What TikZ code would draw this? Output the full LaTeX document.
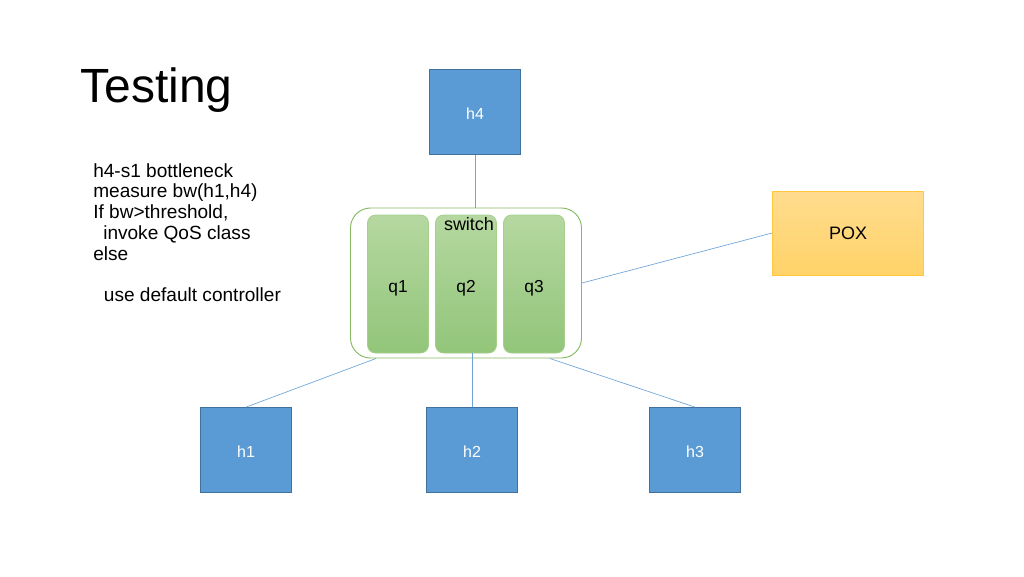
\documentclass[tikz,border=0pt]{standalone}
\usepackage{fontspec}
\setmainfont{Liberation Sans}
\usetikzlibrary{positioning}
\definecolor{hostfill}{HTML}{5B9BD5}
\definecolor{hostline}{HTML}{41719C}
\definecolor{qtop}{HTML}{B5D8A0}
\definecolor{qbot}{HTML}{92C57A}
\definecolor{qline}{HTML}{A6CF8C}
\definecolor{swline}{HTML}{86BA62}
\definecolor{poxtop}{HTML}{FFDC8E}
\definecolor{poxbot}{HTML}{FFD369}
\definecolor{poxline}{HTML}{FFC83D}
\definecolor{linkcol}{HTML}{6FA5D8}
\tikzset{
   host/.style={draw=hostline, line width=0.6pt, fill=hostfill, text=white,
      minimum width=68.25pt, minimum height=63.75pt, text height=11.8pt, text depth=0pt,
      font=\fontsize{12}{14}\selectfont},
   queue/.style={draw=qline, line width=0.6pt, top color=qtop, bottom color=qbot,
      rounded corners=6pt, minimum width=45.75pt, minimum height=103.5pt,
      text height=15.5pt, text depth=2.7pt, font=\fontsize{13}{15}\selectfont},
   link/.style={draw=linkcol, line width=0.5pt}
}

\begin{document}
\begin{tikzpicture}[x=0.75pt,y=-0.75pt]
   \useasboundingbox[fill=white] (0,0) rectangle (1024,576);
   %\draw[step=50,gray!30,very thin] (0,0) grid (1024,576);
   \node[anchor=base west, inner sep=0, font=\fontsize{36}{40}\selectfont] (title) at (80,102) {Testing};
   \node[anchor=north west, inner sep=0, align=left, font=\fontsize{14.3}{15.6}\selectfont] (notes) at (93,163)
      {h4-s1 bottleneck\\ measure bw(h1,h4)\\ If bw>threshold,\\ \hspace*{7.5pt}invoke QoS class\\ else\\[15.6pt]
       \hspace*{8pt}use default controller};

   % switch with its three queues
   \node[draw=swline, line width=0.7pt, fill=white, rounded corners=15pt,
      minimum width=173.25pt, minimum height=112.5pt] (sw) at (466,283) {};
   \node[queue] (q1) at (398,284) {q1};
   \node[queue] (q2) at (466,284) {q2};
   \node[queue] (q3) at (534,284) {q3};
   \node[font=\fontsize{13.5}{15}\selectfont, inner sep=0] (swlabel) at (469,224) {switch};

   \node[host] (h4) at (475,112) {h4};
   \node[host] (h1) at (246,450) {h1};
   \node[host] (h2) at (472,450) {h2};
   \node[host] (h3) at (695,450) {h3};
   \node[draw=poxline, line width=0.6pt, top color=poxtop, bottom color=poxbot,
      minimum width=113.25pt, minimum height=63pt, font=\fontsize{13.5}{16}\selectfont] (pox) at (848,233) {POX};

   \draw[link] (h4.south) -- (h4.south |- sw.north);
   \draw[link] (sw.east) -- (pox.west);
   \draw[link] (sw.220) -- (h1.north);
   \draw[link] (h2.north |- q2.south) -- (h2.north);
   \draw[link] (sw.-42) -- (h3.north);
\end{tikzpicture}
\end{document}
